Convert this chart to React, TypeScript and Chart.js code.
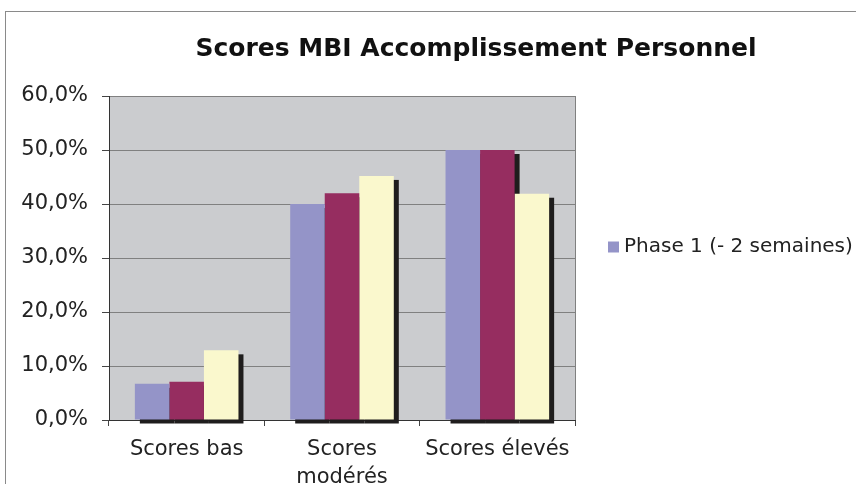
import React, { useEffect, useRef } from 'react';
import { Chart, registerables } from 'chart.js';

Chart.register(...registerables);

// ---- data ----
const chartTitle = 'Scores MBI Accomplissement Personnel';
const categories: (string | string[])[] = ['Scores bas', ['Scores', 'modérés'], 'Scores élevés'];
const seriesNames = ['Phase 1 (- 2 semaines)', 'Phase 2', 'Phase 3'];
const phase1 = [6.7, 40.0, 50.0];
const phase2 = [7.1, 42.0, 50.0];
const phase3 = [12.9, 45.2, 41.9];
const yMin = 0;
const yMax = 60;
const yStep = 10;

// ---- style ----
const FAMILY = "'DejaVu Sans', Verdana, sans-serif";
const COLORS = ['#9494c8', '#962d60', '#faf8cd'];
const SHADOW = '#1f1d1d';
const PLOT_BG = '#cbcccf';
const GRID = '#808080';

const fmt = (v: number) => v.toFixed(1).replace('.', ',') + '%';

export default function App() {
  const ref = useRef<HTMLCanvasElement>(null);

  useEffect(() => {
    const canvas = ref.current!;
    const legendSize = 20;
    const legendPad = 38;
    const plotRight = 575;

    const plotPlugin = {
      id: 'plotDeco',
      afterLayout(chart: any) {
        const t = chart.titleBlock;
        if (t) {
          t.left = 4;
          t.right = 948;
        }
        const lg = chart.legend;
        if (lg) {
          lg.right = lg.left + 400;
          lg.width = 400;
        }
      },
      beforeDraw(chart: any) {
        const { ctx, chartArea: a } = chart;
        ctx.save();
        ctx.fillStyle = PLOT_BG;
        ctx.fillRect(a.left, a.top, a.right - a.left, a.bottom - a.top);
        ctx.restore();
      },
      beforeDatasetsDraw(chart: any) {
        const { ctx, chartArea: a } = chart;
        ctx.save();
        ctx.strokeStyle = GRID;
        ctx.lineWidth = 1;
        ctx.beginPath();
        const rx = Math.round(a.right) + 0.5;
        ctx.moveTo(rx, a.top);
        ctx.lineTo(rx, a.bottom);
        ctx.stroke();
        ctx.fillStyle = SHADOW;
        chart.data.datasets.forEach((_: any, i: number) => {
          const meta = chart.getDatasetMeta(i);
          meta.data.forEach((bar: any) => {
            const { x, y, base, width } = bar.getProps(['x', 'y', 'base', 'width'], true);
            ctx.fillRect(x - width / 2 + 5, y + 4, width, base - y);
          });
        });
        ctx.restore();
      },
    };

    const chart = new Chart(canvas, {
      type: 'bar',
      data: {
        labels: categories,
        datasets: [phase1, phase2, phase3].map((d, i) => ({
          label: seriesNames[i],
          data: d,
          backgroundColor: COLORS[i],
          borderWidth: 0,
          categoryPercentage: 0.667,
          barPercentage: 1,
          clip: false as any,
        })),
      },
      options: {
        responsive: false,
        animation: false,
        layout: { padding: { left: 0, top: 10, bottom: 0, right: 0 } },
        plugins: {
          tooltip: { enabled: false },
          title: {
            display: true,
            text: chartTitle,
            color: '#111',
            font: { family: FAMILY, size: 25, weight: 'bold', lineHeight: 1.2 },
            padding: { top: 24, bottom: 32 },
          },
          legend: {
            position: 'right',
            align: 'center',
            labels: {
              filter: (item: any) => item.datasetIndex === 0,
              usePointStyle: true,
              pointStyle: 'rect',
              boxWidth: 1,
              boxHeight: 11,
              padding: legendPad,
              color: '#222',
              font: { family: FAMILY, size: legendSize },
            },
          },
        },
        scales: {
          x: {
            type: 'category',
            offset: true,
            grid: {
              offset: true,
              drawOnChartArea: false,
              drawTicks: true,
              tickLength: 6,
              color: '#444',
            },
            border: { color: '#333', width: 1 },
            ticks: {
              color: '#222',
              font: { family: FAMILY, size: 21, lineHeight: 1.35 },
              padding: 9,
              maxRotation: 0,
              autoSkip: false,
            },
            afterFit: (s: any) => {
              s.height = 64;
            },
          },
          y: {
            min: yMin,
            max: yMax,
            ticks: {
              stepSize: yStep,
              color: '#222',
              font: { family: FAMILY, size: 21 },
              padding: 14,
              callback: (v: any) => fmt(Number(v)),
            },
            grid: { color: GRID, tickColor: '#444', tickLength: 7, lineWidth: 1 },
            border: { color: '#333', width: 1 },
            afterFit: (s: any) => {
              s.width = 109;
            },
          },
        },
      },
      plugins: [plotPlugin],
    });

    let padR = 0;
    for (let k = 0; k < 6; k++) {
      const diff = chart.chartArea.right - plotRight;
      if (Math.abs(diff) < 0.25) break;
      padR = Math.max(0, padR + (diff * 4) / 3);
      (chart.options.layout as any).padding.right = padR;
      chart.update();
    }

    return () => chart.destroy();
  }, []);

  return (
    <div
      style={{
        position: 'fixed',
        left: 0,
        top: 0,
        width: 856,
        height: 484,
        overflow: 'hidden',
        background: '#fff',
      }}
    >
      <div
        style={{
          position: 'absolute',
          left: 5,
          top: 11,
          width: 2000,
          height: 2000,
          borderLeft: '1px solid #8a8a8a',
          borderTop: '1px solid #8a8a8a',
        }}
      />
      <canvas
        ref={ref}
        width={900}
        height={484}
        style={{ position: 'absolute', left: 0, top: 0, display: 'block' }}
      />
    </div>
  );
}
